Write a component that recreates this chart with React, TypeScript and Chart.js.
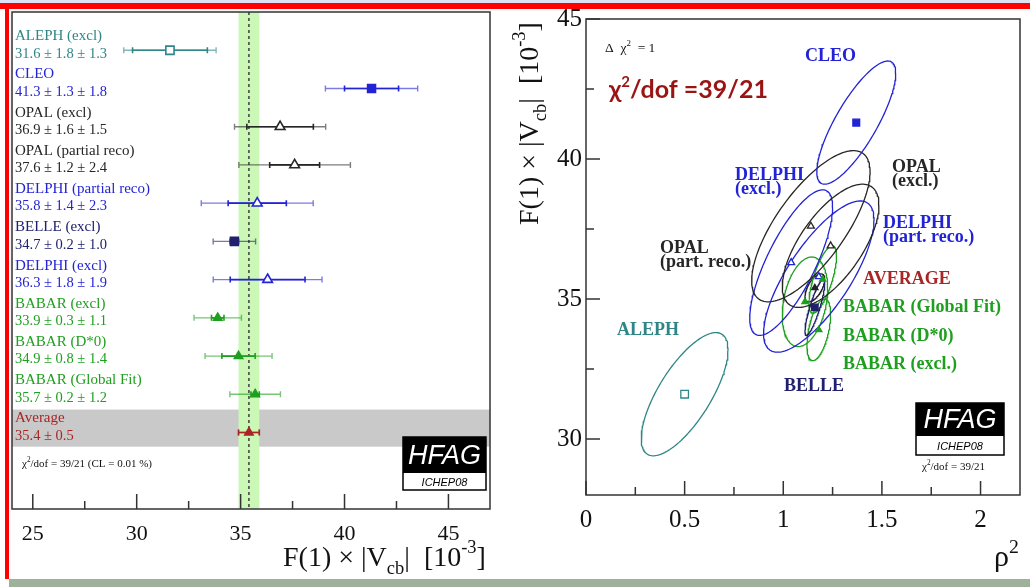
import React, { useEffect, useRef } from 'react';
import { Chart, registerables } from 'chart.js';
Chart.register(...registerables);

// ---------------- Left panel data: F(1)|Vcb| measurements ----------------
const experimentNames = ['ALEPH (excl)', 'CLEO', 'OPAL (excl)', 'OPAL (partial reco)', 'DELPHI (partial reco)', 'BELLE (excl)', 'DELPHI (excl)', 'BABAR (excl)', 'BABAR (D*0)', 'BABAR (Global Fit)', 'Average'];
const valueTexts = ['31.6 ± 1.8 ± 1.3', '41.3 ± 1.3 ± 1.8', '36.9 ± 1.6 ± 1.5', '37.6 ± 1.2 ± 2.4', '35.8 ± 1.4 ± 2.3', '34.7 ± 0.2 ± 1.0', '36.3 ± 1.8 ± 1.9', '33.9 ± 0.3 ± 1.1', '34.9 ± 0.8 ± 1.4', '35.7 ± 0.2 ± 1.2', '35.4 ± 0.5'];
const fvcbValues = [31.6, 41.3, 36.9, 37.6, 35.8, 34.7, 36.3, 33.9, 34.9, 35.7, 35.4];
const statErrors = [1.8, 1.3, 1.6, 1.2, 1.4, 0.2, 1.8, 0.3, 0.8, 0.2, 0.5];
const systErrors = [1.3, 1.8, 1.5, 2.4, 2.3, 1.0, 1.9, 1.1, 1.4, 1.2, 0];
const leftTicks = [25, 30, 35, 40, 45];
const leftMinorTicks = [27.5, 32.5, 37.5, 42.5];

// ---------------- Right panel data: rho^2 vs F(1)|Vcb| ellipses ----------------
const ellipseNames = ['ALEPH', 'CLEO', 'OPAL (excl.)', 'OPAL (part. reco.)', 'DELPHI (part. reco.)', 'BELLE', 'DELPHI (excl.)', 'BABAR (excl.)', 'BABAR (D*0)', 'BABAR (Global Fit)', 'AVERAGE'];
const rho2Values = [0.50, 1.37, 1.24, 1.14, 1.18, 1.16, 1.04, 1.18, 1.11, 1.20, 1.16];
const rho2Errors = [0.22, 0.20, 0.245, 0.30, 0.28, 0.05, 0.21, 0.06, 0.115, 0.07, 0.05];
const fvcbTotalErrors = [2.2, 2.2, 2.2, 2.7, 2.7, 1.0, 2.6, 1.1, 1.6, 1.2, 0.5];
const correlations = [0.72, 0.8, 0.66, 0.72, 0.75, 0.85, 0.76, 0.5, 0.3, 0.7, 0.6];
const rhoTicks = [0, 0.5, 1, 1.5, 2];
const rhoMinorTicks = [0.25, 0.75, 1.25, 1.75];
const fTicks = [30, 35, 40, 45];
const fMinorTicks = [32.5, 37.5, 42.5];

// ---------------- styles ----------------
const TEAL = '#2e8686';
const BLUE = '#2323d6';
const BLACK = '#262626';
const NAVY = '#20206e';
const GREEN = '#1f9f1f';
const DARKRED = '#a82626';
const lineColors = [TEAL, BLUE, BLACK, BLACK, BLUE, NAVY, BLUE, GREEN, GREEN, GREEN, DARKRED];
const rightColors = [TEAL, BLUE, BLACK, BLACK, BLUE, NAVY, BLUE, GREEN, GREEN, GREEN, '#222222'];
const pointStyles = ['rect', 'rect', 'triangle', 'triangle', 'triangle', 'rect', 'triangle', 'triangle', 'triangle', 'triangle', 'triangle'];
const filledMarkers = [false, true, false, false, false, true, false, true, true, true, true];
const leftRadii = [5.8, 5.6, 5.6, 5.6, 5.6, 5.6, 5.6, 4.8, 4.8, 4.8, 4.8];
const rightRadii = [5.4, 4.8, 4, 4, 4, 4.6, 4, 3.6, 3.6, 3.6, 3.6];
const SERIF = '"Liberation Serif", "DejaVu Serif", serif';

type Part = { t: string; sub?: boolean; sup?: boolean };

function drawRich(ctx: CanvasRenderingContext2D, parts: Part[], x: number, y: number, size: number, weight = '') {
  let cx = x;
  for (const p of parts) {
    const s = p.sub || p.sup ? size * 0.66 : size;
    ctx.font = `${weight} ${s}px ${SERIF}`;
    const dy = p.sub ? size * 0.3 : p.sup ? -size * 0.45 : 0;
    ctx.fillText(p.t, cx, y + dy);
    cx += ctx.measureText(p.t).width;
  }
  return cx - x;
}

function drawHFAG(ctx: CanvasRenderingContext2D, x: number, y: number, w: number, hb: number, hw: number) {
  ctx.save();
  ctx.fillStyle = '#000';
  ctx.fillRect(x, y, w, hb);
  ctx.fillStyle = '#fff';
  ctx.fillRect(x, y + hb, w, hw);
  ctx.strokeStyle = '#000';
  ctx.lineWidth = 1.5;
  ctx.strokeRect(x, y, w, hb + hw);
  ctx.fillStyle = '#fff';
  ctx.textAlign = 'center';
  ctx.textBaseline = 'middle';
  ctx.font = `italic 27px "Liberation Sans", Arial, sans-serif`;
  ctx.fillText('HFAG', x + w / 2, y + hb / 2 + 1);
  ctx.fillStyle = '#000';
  ctx.font = `italic 11px "Liberation Sans", Arial, sans-serif`;
  ctx.fillText('ICHEP08', x + w / 2, y + hb + hw / 2 + 1);
  ctx.restore();
}

const titleParts: Part[] = [{ t: 'F(1) × |V' }, { t: 'cb', sub: true }, { t: '|  [10' }, { t: '-3', sup: true }, { t: ']' }];

const leftPlugin = {
  id: 'leftDecor',
  beforeDatasetsDraw(chart: any) {
    const { ctx, chartArea: a, scales } = chart;
    const x = scales.x, y = scales.y;
    const avgIdx = fvcbValues.length - 1;
    ctx.save();
    // grey band behind the average row
    const gy1 = y.getPixelForValue(avgIdx - 0.6);
    const gy2 = y.getPixelForValue(avgIdx + 0.37);
    ctx.fillStyle = '#c9c9c9';
    ctx.fillRect(a.left, gy1, a.right - a.left, gy2 - gy1);
    // green average band
    const avg = fvcbValues[avgIdx], aErr = statErrors[avgIdx];
    const bx1 = x.getPixelForValue(avg - aErr), bx2 = x.getPixelForValue(avg + aErr);
    ctx.fillStyle = '#cbf7b7';
    ctx.fillRect(bx1, a.top, bx2 - bx1, a.bottom - a.top);
    // dashed line
    const ax = x.getPixelForValue(avg);
    ctx.strokeStyle = '#333';
    ctx.lineWidth = 1.4;
    ctx.setLineDash([3, 3]);
    ctx.beginPath();
    ctx.moveTo(ax, a.top);
    ctx.lineTo(ax, a.bottom);
    ctx.stroke();
    ctx.setLineDash([]);
    // error bars
    for (let i = 0; i < fvcbValues.length; i++) {
      const v = fvcbValues[i];
      const tot = Math.hypot(statErrors[i], systErrors[i]);
      const py = y.getPixelForValue(i);
      const seg = (lo: number, hi: number, alpha: number, lw: number) => {
        const p1 = x.getPixelForValue(lo), p2 = x.getPixelForValue(hi);
        ctx.globalAlpha = alpha;
        ctx.strokeStyle = lineColors[i];
        ctx.lineWidth = lw;
        ctx.beginPath();
        ctx.moveTo(p1, py); ctx.lineTo(p2, py);
        ctx.moveTo(p1, py - 3); ctx.lineTo(p1, py + 3);
        ctx.moveTo(p2, py - 3); ctx.lineTo(p2, py + 3);
        ctx.stroke();
      };
      seg(v - tot, v + tot, 0.6, 1.4);
      seg(v - statErrors[i], v + statErrors[i], 1, 1.6);
    }
    ctx.globalAlpha = 1;
    ctx.restore();
  },
  afterDatasetsDraw(chart: any) {
    const { ctx, chartArea: a, scales } = chart;
    const x = scales.x, y = scales.y;
    ctx.save();
    // row labels
    ctx.textAlign = 'left';
    ctx.textBaseline = 'middle';
    for (let i = 0; i < experimentNames.length; i++) {
      const py = y.getPixelForValue(i);
      ctx.fillStyle = lineColors[i];
      ctx.font = `15px ${SERIF}`;
      ctx.fillText(experimentNames[i], a.left + 3, py - 14);
      ctx.font = `14.5px ${SERIF}`;
      ctx.fillText(valueTexts[i], a.left + 3, py + 3.5);
    }
    // chi2 note
    ctx.fillStyle = '#111';
    ctx.textBaseline = 'alphabetic';
    drawRich(ctx, [{ t: 'χ' }, { t: '2', sup: true }, { t: '/dof = 39/21 (CL = 0.01 %)' }], a.left + 10, 467, 11);
    // frame
    ctx.strokeStyle = '#333';
    ctx.lineWidth = 1.5;
    ctx.strokeRect(a.left, a.top, a.right - a.left, a.bottom - a.top);
    ctx.beginPath();
    for (const v of leftTicks) {
      const px = x.getPixelForValue(v);
      ctx.moveTo(px, a.bottom); ctx.lineTo(px, a.bottom - 15);
    }
    for (const v of leftMinorTicks) {
      const px = x.getPixelForValue(v);
      ctx.moveTo(px, a.bottom); ctx.lineTo(px, a.bottom - 8);
    }
    ctx.stroke();
    drawHFAG(ctx, 403, 437, 83, 36, 17);
    // axis title
    ctx.fillStyle = '#111';
    drawRich(ctx, titleParts, 283, 566, 28);
    ctx.restore();
  },
};

const rightLabels = [
  { lines: ['CLEO'], x: 305, y: 56, color: BLUE },
  { lines: ['DELPHI', '(excl.)'], x: 235, y: 175, color: BLUE },
  { lines: ['OPAL', '(excl.)'], x: 392, y: 167, color: BLACK },
  { lines: ['DELPHI', '(part. reco.)'], x: 383, y: 223, color: BLUE },
  { lines: ['OPAL', '(part. reco.)'], x: 160, y: 248, color: BLACK },
  { lines: ['AVERAGE'], x: 363, y: 279, color: DARKRED },
  { lines: ['BABAR (Global Fit)'], x: 343, y: 307, color: GREEN },
  { lines: ['BABAR (D*0)'], x: 343, y: 336, color: GREEN },
  { lines: ['BABAR (excl.)'], x: 343, y: 364, color: GREEN },
  { lines: ['BELLE'], x: 284, y: 386, color: NAVY },
  { lines: ['ALEPH'], x: 117, y: 330, color: TEAL },
];

const rightPlugin = {
  id: 'rightDecor',
  afterDatasetsDraw(chart: any) {
    const { ctx, chartArea: a, scales } = chart;
    const x = scales.x, y = scales.y;
    ctx.save();
    // frame & ticks
    ctx.strokeStyle = '#333';
    ctx.lineWidth = 1.5;
    ctx.strokeRect(a.left, a.top, a.right - a.left, a.bottom - a.top);
    ctx.beginPath();
    for (const v of rhoTicks) {
      const px = x.getPixelForValue(v);
      ctx.moveTo(px, a.bottom); ctx.lineTo(px, a.bottom - 14);
    }
    for (const v of rhoMinorTicks) {
      const px = x.getPixelForValue(v);
      ctx.moveTo(px, a.bottom); ctx.lineTo(px, a.bottom - 8);
    }
    for (const v of fTicks) {
      const py = y.getPixelForValue(v);
      ctx.moveTo(a.left, py); ctx.lineTo(a.left + 14, py);
    }
    for (const v of fMinorTicks) {
      const py = y.getPixelForValue(v);
      ctx.moveTo(a.left, py); ctx.lineTo(a.left + 8, py);
    }
    ctx.stroke();
    // experiment labels
    ctx.textAlign = 'left';
    ctx.textBaseline = 'middle';
    ctx.font = `bold 18px ${SERIF}`;
    for (const l of rightLabels) {
      ctx.fillStyle = l.color;
      l.lines.forEach((s, k) => ctx.fillText(s, l.x, l.y + k * 14));
    }
    // delta chi2 note
    ctx.fillStyle = '#111';
    ctx.textBaseline = 'alphabetic';
    drawRich(ctx, [{ t: 'Δ  χ' }, { t: '2', sup: true }, { t: '  = 1' }], 105, 52, 13.5);
    // big chi2/dof
    ctx.fillStyle = '#9a1414';
    let cx = 109;
    ctx.font = 'bold 25px Lato, "Open Sans", sans-serif';
    ctx.fillText('χ', cx, 98);
    cx += ctx.measureText('χ').width;
    ctx.font = 'bold 15px Lato, "Open Sans", sans-serif';
    ctx.fillText('2', cx, 87);
    cx += ctx.measureText('2').width;
    ctx.font = 'bold 25px Lato, "Open Sans", sans-serif';
    ctx.fillText('/dof =39/21', cx, 98);
    // logo
    drawHFAG(ctx, 416, 403, 88, 33, 19);
    ctx.fillStyle = '#111';
    ctx.textAlign = 'left';
    drawRich(ctx, [{ t: 'χ' }, { t: '2', sup: true }, { t: '/dof = 39/21' }], 422, 470, 11);
    // axis titles
    ctx.save();
    ctx.translate(38, 225);
    ctx.rotate(-Math.PI / 2);
    drawRich(ctx, titleParts, 0, 0, 28);
    ctx.restore();
    drawRich(ctx, [{ t: 'ρ' }, { t: '2', sup: true }], 494, 566, 30);
    ctx.restore();
  },
};

function ellipsePoints(i: number) {
  const pts: { x: number; y: number }[] = [];
  const n = 144;
  const r = correlations[i];
  for (let k = 0; k <= n; k++) {
    const t = (2 * Math.PI * k) / n;
    pts.push({
      x: rho2Values[i] + rho2Errors[i] * Math.cos(t),
      y: fvcbValues[i] + fvcbTotalErrors[i] * (r * Math.cos(t) + Math.sqrt(1 - r * r) * Math.sin(t)),
    });
  }
  return pts;
}

export default function App() {
  const leftRef = useRef<HTMLCanvasElement>(null);
  const rightRef = useRef<HTMLCanvasElement>(null);

  useEffect(() => {
    const left = new Chart(leftRef.current as HTMLCanvasElement, {
      type: 'scatter',
      data: {
        datasets: [
          {
            data: fvcbValues.map((v, i) => ({ x: v, y: i })),
            pointStyle: pointStyles as any,
            pointRadius: leftRadii,
            backgroundColor: filledMarkers.map((f, i) => (f ? lineColors[i] : '#ffffff')),
            borderColor: lineColors,
            borderWidth: 1.6,
          },
        ],
      },
      options: {
        responsive: false,
        animation: false,
        devicePixelRatio: 1,
        layout: { padding: { left: 12, top: 12, right: 10, bottom: 0 } },
        plugins: { legend: { display: false }, tooltip: { enabled: false } },
        scales: {
          x: {
            type: 'linear',
            min: 24,
            max: 47,
            afterBuildTicks: (s: any) => { s.ticks = leftTicks.map((v) => ({ value: v })); },
            afterFit: (s: any) => { s.height = 78; },
            grid: { display: false, drawTicks: false },
            border: { display: false },
            ticks: { autoSkip: false, maxRotation: 0, padding: 12, color: '#111', font: { family: SERIF, size: 22 }, callback: (v: any) => String(v) },
          },
          y: { type: 'linear', min: -1, max: 12, reverse: true, display: false },
        },
      } as any,
      plugins: [leftPlugin],
    });

    const right = new Chart(rightRef.current as HTMLCanvasElement, {
      type: 'scatter',
      data: {
        datasets: [
          {
            data: rho2Values.map((v, i) => ({ x: v, y: fvcbValues[i] })),
            pointStyle: pointStyles as any,
            pointRadius: rightRadii,
            backgroundColor: filledMarkers.map((f, i) => (f ? rightColors[i] : '#ffffff')),
            borderColor: rightColors,
            borderWidth: 1.3,
          },
          ...ellipseNames.map((name, i) => ({
            label: name,
            data: ellipsePoints(i),
            showLine: true,
            pointRadius: 0,
            borderColor: rightColors[i],
            borderWidth: 1.3,
            fill: false,
            tension: 0,
          })),
        ],
      },
      options: {
        responsive: false,
        animation: false,
        devicePixelRatio: 1,
        layout: { padding: { left: 0, top: 17, right: 10, bottom: 0 } },
        plugins: { legend: { display: false }, tooltip: { enabled: false } },
        scales: {
          x: {
            type: 'linear',
            min: 0,
            max: 2.2,
            afterBuildTicks: (s: any) => { s.ticks = rhoTicks.map((v) => ({ value: v })); },
            afterFit: (s: any) => { s.height = 92; },
            grid: { display: false, drawTicks: false },
            border: { display: false },
            ticks: { autoSkip: false, maxRotation: 0, padding: 10, color: '#111', font: { family: SERIF, size: 25 }, callback: (v: any) => String(v) },
          },
          y: {
            type: 'linear',
            min: 28,
            max: 45,
            afterBuildTicks: (s: any) => { s.ticks = fTicks.map((v) => ({ value: v })); },
            afterFit: (s: any) => { s.width = 86; },
            grid: { display: false, drawTicks: false },
            border: { display: false },
            ticks: { autoSkip: false, padding: 4, color: '#111', font: { family: SERIF, size: 25 }, callback: (v: any) => String(v) },
          },
        },
      } as any,
      plugins: [rightPlugin],
    });

    return () => {
      left.destroy();
      right.destroy();
    };
  }, []);

  return (
    <div style={{ position: 'fixed', left: 0, top: 0, width: 1030, height: 587, background: '#fff', overflow: 'hidden' }}>
      <canvas ref={leftRef} width={500} height={587} style={{ position: 'absolute', left: 0, top: 0 }} />
      <canvas ref={rightRef} width={530} height={587} style={{ position: 'absolute', left: 500, top: 0 }} />
      <div style={{ position: 'absolute', left: 0, top: 0, width: 1030, height: 3, background: '#dde1f3' }} />
      <div style={{ position: 'absolute', left: 0, top: 3, width: 1030, height: 6, background: '#ff0000' }} />
      <div style={{ position: 'absolute', left: 5, top: 3, width: 4, height: 576, background: '#ff0000' }} />
      <div style={{ position: 'absolute', left: 9, top: 579, width: 1021, height: 8, background: '#9db19b' }} />
    </div>
  );
}
